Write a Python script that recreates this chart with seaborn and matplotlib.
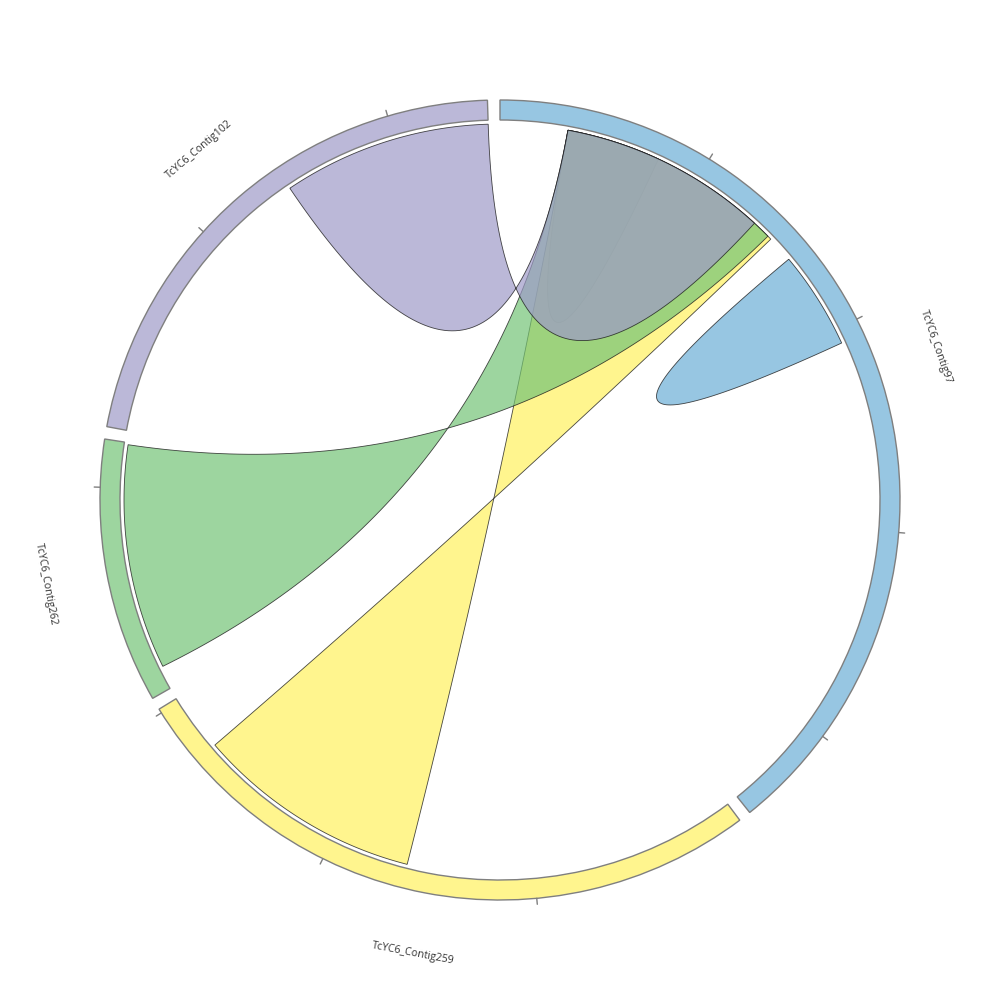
import numpy as np
import seaborn as sns
import matplotlib.pyplot as plt
from matplotlib.patches import Wedge, PathPatch
from matplotlib.path import Path

# 片段 (順時針, 從 12 點方向開始)
contigs = ["TcYC6_Contig97", "TcYC6_Contig259", "TcYC6_Contig262", "TcYC6_Contig102"]
lengths = [4.48, 3.02, 1.22, 2.46]
seg_colors = ["#6baed6", "#fff25f", "#74c476", "#9e9ac8"]

# 連結 (來源區段 -> 目標區段), 目標的 start/end 可以反向
link_src = ["TcYC6_Contig97", "TcYC6_Contig97", "TcYC6_Contig259", "TcYC6_Contig262", "TcYC6_Contig102"]
link_src_start = [0.33, 1.59, 1.62, 0.11, 1.44]
link_src_end = [0.56, 1.83, 2.73, 1.21, 2.46]
link_tgt = ["TcYC6_Contig97", "TcYC6_Contig97", "TcYC6_Contig97", "TcYC6_Contig97", "TcYC6_Contig97"]
link_tgt_start = [0.79, 2.07, 0.33, 0.33, 0.33]
link_tgt_end = [0.56, 1.83, 1.46, 1.44, 1.35]

sns.set_theme(style="white")
plt.rcParams["font.family"] = ["Open Sans", "DejaVu Sans"]

palette = dict(zip(contigs, sns.color_palette(seg_colors)))

gap = 1.8
start_angle = 90.0
deg_per_unit = (360 - gap * len(contigs)) / sum(lengths)

seg_start = {}
a = start_angle
for name, ln in zip(contigs, lengths):
    seg_start[name] = a
    a -= ln * deg_per_unit + gap


def ang(name, pos):
    return seg_start[name] - pos * deg_per_unit


def pt(deg, r):
    t = np.deg2rad(deg)
    return np.array([r * np.cos(t), r * np.sin(t)])


def arc(d0, d1, r, n=80):
    t = np.deg2rad(np.linspace(d0, d1, n))
    return np.column_stack([r * np.cos(t), r * np.sin(t)])


def bez(p0, p2, n=80):
    # 控制點在圓心; 兩端相同時不畫
    if np.allclose(p0, p2):
        return p0[None, :]
    t = np.linspace(0, 1, n)[:, None]
    return (1 - t) ** 2 * p0 + t ** 2 * p2


R_out, R_in, R_rib = 400, 380, 376
alpha = 0.7

fig = plt.figure(figsize=(10, 10), dpi=100)
ax = fig.add_axes([0, 0, 1, 1])
ax.set_xlim(-500, 500)
ax.set_ylim(-500, 500)
ax.set_aspect("equal")
ax.axis("off")

# 外圈區段
for name, ln in zip(contigs, lengths):
    s = seg_start[name]
    e = ang(name, ln)
    c = palette[name]
    ax.add_patch(Wedge((0, 0), R_out, e, s, width=R_out - R_in,
                       facecolor=(*c, alpha), edgecolor="#7f7f7f", lw=1.0))
    # 刻度
    for k in range(1, int(np.floor(ln)) + 1):
        d = ang(name, k)
        p0, p1 = pt(d, R_out), pt(d, R_out + 6)
        ax.plot([p0[0], p1[0]], [p0[1], p1[1]], color="#7f7f7f", lw=1.0)
    # 標籤
    mid = (s + e) / 2
    p = pt(mid, 462)
    rot = (mid - 90 + 180) % 360 - 180
    if rot > 90:
        rot -= 180
    if rot < -90:
        rot += 180
    ax.text(p[0], p[1], name, rotation=rot, rotation_mode="anchor",
            ha="center", va="center", fontsize=7.6, color="#333333")

# 連結帶
for i in range(len(link_src)):
    s0 = ang(link_src[i], link_src_start[i])
    s1 = ang(link_src[i], link_src_end[i])
    t0 = ang(link_tgt[i], link_tgt_start[i])
    t1 = ang(link_tgt[i], link_tgt_end[i])
    verts = np.vstack([
        arc(s0, s1, R_rib),
        bez(pt(s1, R_rib), pt(t1, R_rib)),
        arc(t1, t0, R_rib),
        bez(pt(t0, R_rib), pt(s0, R_rib)),
    ])
    c = palette[link_src[i]]
    ax.add_patch(PathPatch(Path(verts, closed=False), facecolor=(*c, alpha),
                           edgecolor=(0.1, 0.1, 0.1, 0.8), lw=0.6))

fig.savefig("out.png", dpi=100, facecolor="white")
